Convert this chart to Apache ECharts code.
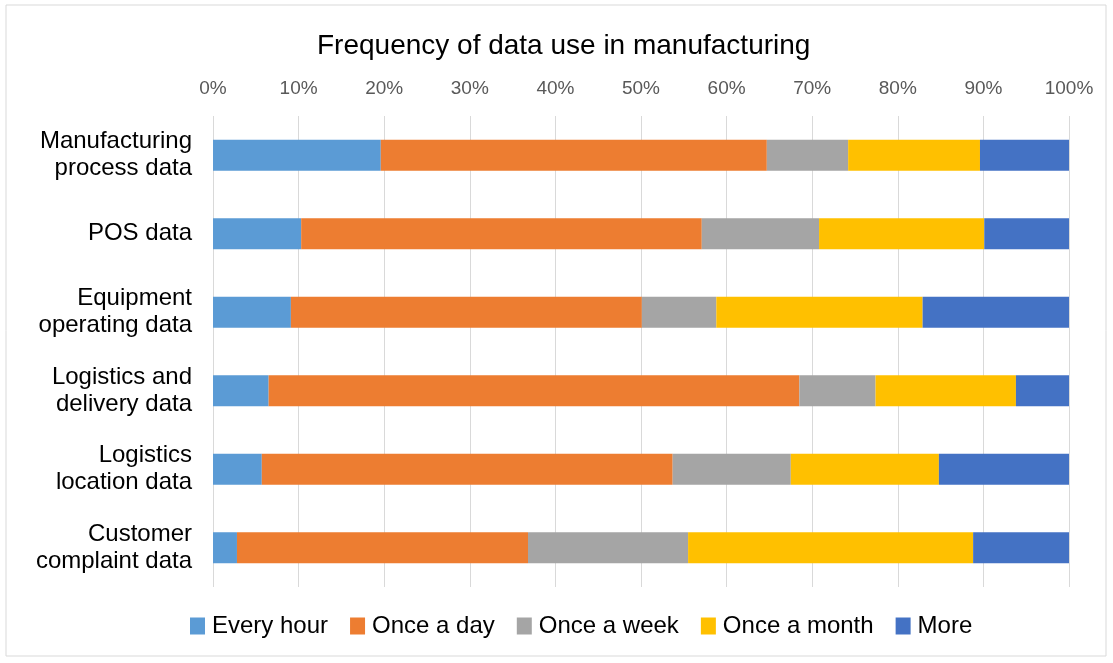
<!DOCTYPE html>
<html>
<head>
<meta charset="utf-8">
<script src="https://cdn.jsdelivr.net/npm/echarts@6/dist/echarts.min.js"></script>
<style>
  html, body { margin: 0; padding: 0; background: #fff; }
  #main { width: 1113px; height: 663px; }
</style>
</head>
<body>
<div id="main"></div>
<script type="text/javascript">
    // categories, top to bottom
    var categories = [
        'Manufacturing\nprocess data',
        'POS data',
        'Equipment\noperating data',
        'Logistics and\ndelivery data',
        'Logistics\nlocation data',
        'Customer\ncomplaint data'
    ];
    // share of respondents (%) per frequency
    var everyHour   = [19.6, 10.3,  9.1,  6.5,  5.7,  2.8];
    var onceADay    = [45.1, 46.8, 41.0, 62.0, 48.0, 34.0];
    var onceAWeek   = [ 9.5, 13.7,  8.7,  8.9, 13.8, 18.7];
    var onceAMonth  = [15.4, 19.3, 24.1, 16.4, 17.3, 33.3];
    var more        = [10.4,  9.9, 17.1,  6.2, 15.2, 11.2];

    var seriesNames = ['Every hour', 'Once a day', 'Once a week', 'Once a month', 'More'];
    var seriesData  = [everyHour, onceADay, onceAWeek, onceAMonth, more];
    var colors      = ['#5B9BD5', '#ED7D31', '#A5A5A5', '#FFC000', '#4472C4'];

    var chart = echarts.init(document.getElementById('main'));

    var series = [];
    for (var i = 0; i < seriesNames.length; i++) {
        series.push({
            name: seriesNames[i],
            type: 'bar',
            stack: 'total',
            barWidth: '39.5%',
            itemStyle: { color: colors[i] },
            data: seriesData[i]
        });
    }

    var option = {
        animation: false,
        color: colors,
        graphic: [{
            type: 'rect',
            shape: { x: 6, y: 5, width: 1100, height: 651 },
            style: { fill: 'none', stroke: '#d9d9d9', lineWidth: 1 }
        }],
        title: {
            text: 'Frequency of data use in manufacturing',
            left: 312,
            top: 27,
            textStyle: {
                fontFamily: 'Liberation Sans, Arial, sans-serif',
                fontSize: 28,
                fontWeight: 'normal',
                color: '#000'
            }
        },
        legend: {
            data: seriesNames,
            left: 185,
            top: 609,
            itemWidth: 15,
            itemHeight: 17,
            itemGap: 22,
            icon: 'rect',
            textStyle: {
                fontFamily: 'Liberation Sans, Arial, sans-serif',
                fontSize: 24,
                color: '#000',
                padding: [0, 0, 0, 2]
            }
        },
        grid: {
            left: 213,
            right: 44,
            top: 116,
            bottom: 76
        },
        xAxis: {
            type: 'value',
            position: 'top',
            min: 0,
            max: 100,
            interval: 10,
            axisLine: { show: false },
            axisTick: { show: false },
            splitLine: { show: true, lineStyle: { color: '#d9d9d9' } },
            axisLabel: {
                formatter: '{value}%',
                margin: 18,
                fontFamily: 'Liberation Sans Narrow, Arial Narrow, Liberation Sans, sans-serif',
                fontSize: 19,
                color: '#595959'
            }
        },
        yAxis: {
            type: 'category',
            inverse: true,
            data: categories,
            axisLine: { show: false },
            axisTick: { show: false },
            axisLabel: {
                margin: 21,
                fontFamily: 'Liberation Sans, Arial, sans-serif',
                fontSize: 24,
                lineHeight: 27,
                color: '#000',
                align: 'right'
            }
        },
        series: series
    };

    chart.setOption(option);
</script>
</body>
</html>
